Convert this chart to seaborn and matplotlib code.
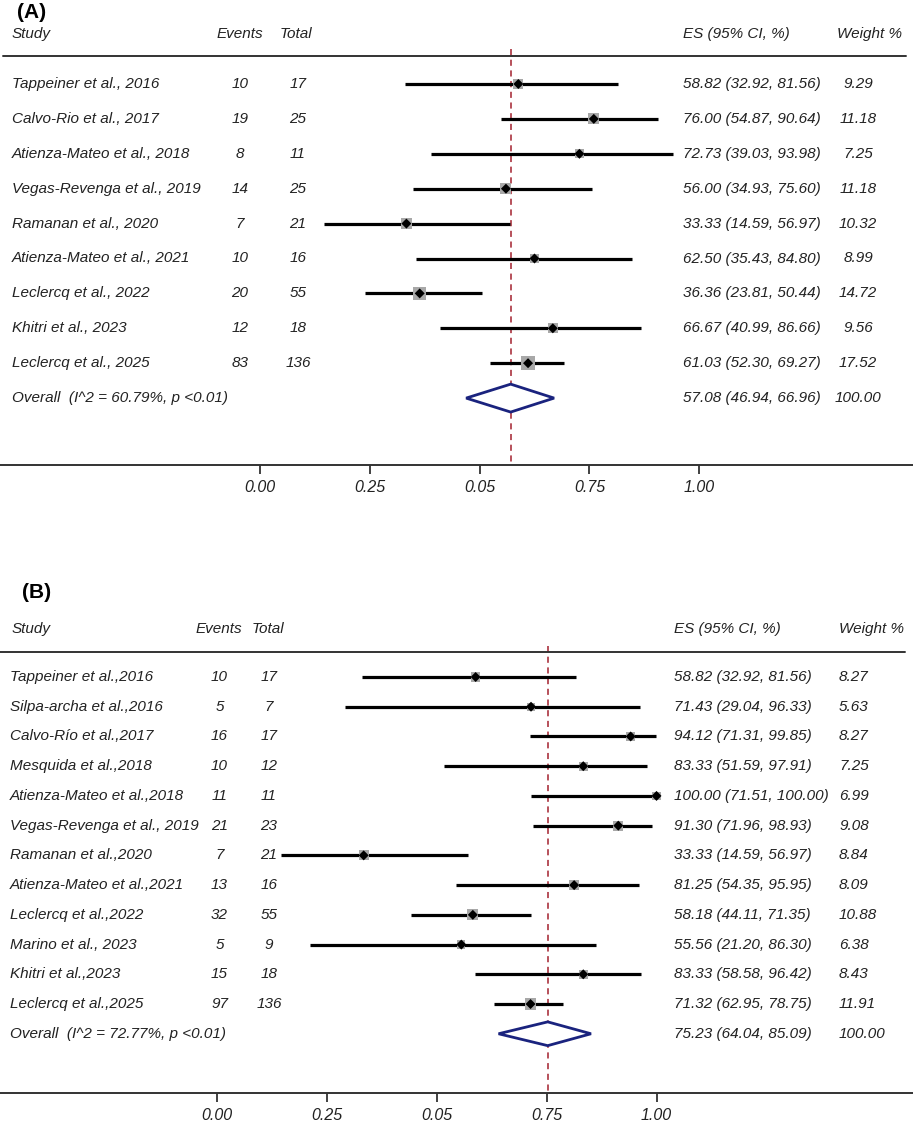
import numpy as np
import pandas as pd
import matplotlib
matplotlib.use("Agg")
import matplotlib.pyplot as plt
import seaborn as sns

# ---- panel A data ----
studies_a = ["Tappeiner et al., 2016", "Calvo-Rio et al., 2017", "Atienza-Mateo et al., 2018",
             "Vegas-Revenga et al., 2019", "Ramanan et al., 2020", "Atienza-Mateo et al., 2021",
             "Leclercq et al., 2022", "Khitri et al., 2023", "Leclercq et al., 2025"]
events_a = [10, 19, 8, 14, 7, 10, 20, 12, 83]
total_a = [17, 25, 11, 25, 21, 16, 55, 18, 136]
es_a = [58.82, 76.00, 72.73, 56.00, 33.33, 62.50, 36.36, 66.67, 61.03]
lo_a = [32.92, 54.87, 39.03, 34.93, 14.59, 35.43, 23.81, 40.99, 52.30]
hi_a = [81.56, 90.64, 93.98, 75.60, 56.97, 84.80, 50.44, 86.66, 69.27]
weight_a = [9.29, 11.18, 7.25, 11.18, 10.32, 8.99, 14.72, 9.56, 17.52]
overall_a = [57.08, 46.94, 66.96]
i2_a = 60.79

# ---- panel B data ----
studies_b = ["Tappeiner et al.,2016", "Silpa-archa et al.,2016", "Calvo-Río et al.,2017",
             "Mesquida et al.,2018", "Atienza-Mateo et al.,2018", "Vegas-Revenga et al., 2019",
             "Ramanan et al.,2020", "Atienza-Mateo et al.,2021", "Leclercq et al.,2022",
             "Marino et al., 2023", "Khitri et al.,2023", "Leclercq et al.,2025"]
events_b = [10, 5, 16, 10, 11, 21, 7, 13, 32, 5, 15, 97]
total_b = [17, 7, 17, 12, 11, 23, 21, 16, 55, 9, 18, 136]
es_b = [58.82, 71.43, 94.12, 83.33, 100.00, 91.30, 33.33, 81.25, 58.18, 55.56, 83.33, 71.32]
lo_b = [32.92, 29.04, 71.31, 51.59, 71.51, 71.96, 14.59, 54.35, 44.11, 21.20, 58.58, 62.95]
hi_b = [81.56, 96.33, 99.85, 97.91, 100.00, 98.93, 56.97, 95.95, 71.35, 86.30, 96.42, 78.75]
weight_b = [8.27, 5.63, 8.27, 7.25, 6.99, 9.08, 8.84, 8.09, 10.88, 6.38, 8.43, 11.91]
overall_b = [75.23, 64.04, 85.09]
i2_b = 72.77

tick_vals = [0, 0.25, 0.5, 0.75, 1.0]
tick_labels = ["0.00", "0.25", "0.05", "0.75", "1.00"]

sns.set_style("white")
plt.rcParams["font.family"] = ["Liberation Sans", "DejaVu Sans"]
plt.rcParams["font.style"] = "italic"

W, H = 913, 1123
fig = plt.figure(figsize=(W / 100, H / 100), dpi=100)
TXT = "#222222"
FS = 11


def draw_panel(ax, label, studies, events, total, es, lo, hi, weight, overall, i2,
               x0, row0, step, cols, wcenter):
    n = len(studies)
    df = pd.DataFrame({"study": studies, "events": events, "total": total,
                       "es": np.array(es) / 100, "lo": np.array(lo) / 100,
                       "hi": np.array(hi) / 100, "weight": weight, "row": np.arange(n)})
    px_per = 439.2
    ax.set_xlim(-x0 / px_per, (W - x0) / px_per)
    # axes spans from pixel "top" down to the axis line pixel "bot"
    pos = ax.get_position()
    top_px = H - (pos.y0 + pos.height) * H
    bot_px = H - pos.y0 * H
    ax.set_ylim((bot_px - row0) / step, (top_px - row0) / step)

    def r(px):
        return (px - row0) / step

    tr = ax.get_yaxis_transform()
    head_y = r(cols["head"])
    line_y = r(cols["line"])

    ax.text(cols["lab_x"] / W, r(cols["lab"]), label, transform=tr, fontsize=15,
            fontweight="bold", fontstyle="normal", va="center", color="black")
    ax.text(12 / W, head_y, "Study", transform=tr, fontsize=FS, va="center", color=TXT)
    ax.text(cols["ev_h"] / W, head_y, "Events", transform=tr, fontsize=FS, va="center", color=TXT)
    ax.text(cols["to_h"] / W, head_y, "Total", transform=tr, fontsize=FS, va="center", color=TXT)
    ax.text(cols["es"] / W, head_y, "ES (95% CI, %)", transform=tr, fontsize=FS, va="center", color=TXT)
    ax.text(cols["wt_h"] / W, head_y, "Weight %", transform=tr, fontsize=FS, va="center", color=TXT)
    ax.plot([cols["hl0"] / W, cols["hl1"] / W], [line_y, line_y], transform=tr,
            color="#333333", lw=1.4, clip_on=False)

    # reference line at pooled estimate
    ax.vlines(overall[0] / 100, line_y - 0.2, ax.get_ylim()[0], colors="#a3202e",
              linestyles=(0, (4, 3)), lw=1.1, zorder=1)

    # CI lines
    ax.hlines(df["row"], df["lo"], df["hi"], colors="black", lw=2.3, zorder=2)
    # weighted grey squares
    sns.scatterplot(data=df, x="es", y="row", size="weight",
                    sizes=(min(weight) * 5.6, max(weight) * 5.6),
                    size_norm=(min(weight), max(weight)), marker="s", color="#a8a8a8",
                    edgecolor="none", legend=False, ax=ax, zorder=3, clip_on=False)
    sns.scatterplot(data=df, x="es", y="row", marker="D", s=26, color="black",
                    edgecolor="none", legend=False, ax=ax, zorder=4, clip_on=False)

    for i in range(n):
        ax.text(cols["name_x"] / W, i, studies[i], transform=tr, fontsize=FS, va="center", color=TXT)
        ax.text(cols["ev"] / W, i, str(events[i]), transform=tr, fontsize=FS, va="center",
                ha="center", color=TXT)
        ax.text(cols["to"] / W, i, str(total[i]), transform=tr, fontsize=FS, va="center",
                ha="center", color=TXT)
        ax.text(cols["es"] / W, i, f"{es[i]:.2f} ({lo[i]:.2f}, {hi[i]:.2f})", transform=tr,
                fontsize=FS, va="center", color=TXT)
        ax.text(cols["wt"] / W, i, f"{weight[i]:.2f}", transform=tr, fontsize=FS, va="center",
                ha="center" if wcenter else "left", color=TXT)

    # pooled diamond
    est, olo, ohi = [v / 100 for v in overall]
    half = 0.4
    ax.fill([olo, est, ohi, est, olo], [n, n - half, n, n + half, n], facecolor="white",
            edgecolor="#1a237e", lw=2, zorder=3)
    ax.text(cols["name_x"] / W, n, f"Overall  (I^2 = {i2:.2f}%, p <0.01)", transform=tr,
            fontsize=FS, va="center", color=TXT)
    ax.text(cols["es"] / W, n, f"{overall[0]:.2f} ({overall[1]:.2f}, {overall[2]:.2f})",
            transform=tr, fontsize=FS, va="center", color=TXT)
    ax.text(cols["wt"] / W, n, "100.00", transform=tr, fontsize=FS, va="center",
            ha="center" if wcenter else "left", color=TXT)

    ax.set_xticks(tick_vals)
    ax.set_xticklabels(tick_labels, fontsize=FS + 0.5, color=TXT, fontstyle="italic")
    ax.set_yticks([])
    ax.set_xlabel("")
    ax.set_ylabel("")
    for s in ["top", "left", "right"]:
        ax.spines[s].set_visible(False)
    ax.spines["bottom"].set_color("#333333")
    ax.spines["bottom"].set_linewidth(1.4)
    ax.tick_params(axis="x", direction="out", length=6.5, width=1.3, color="#333333", pad=4,
                   bottom=True)


# panel A: axes from y=0 to axis line at 465 px
ax_a = fig.add_axes([0, (H - 465) / H, 1, 465 / H])
draw_panel(ax_a, "(A)", studies_a, events_a, total_a, es_a, lo_a, hi_a, weight_a, overall_a, i2_a,
           x0=260, row0=84, step=34.9,
           cols=dict(head=34, line=56, lab=12, lab_x=17, ev_h=217, to_h=280, es=683, wt_h=837,
                     hl0=3, hl1=906, name_x=12, ev=240, to=298, wt=858),
           wcenter=True)

# panel B: axes from y=580 to axis line at 1093 px
ax_b = fig.add_axes([0, (H - 1093) / H, 1, (1093 - 580) / H])
draw_panel(ax_b, "(B)", studies_b, events_b, total_b, es_b, lo_b, hi_b, weight_b, overall_b, i2_b,
           x0=217.3, row0=677, step=29.73,
           cols=dict(head=629, line=652, lab=593, lab_x=22, ev_h=196, to_h=252, es=674, wt_h=839,
                     hl0=0, hl1=905, name_x=10, ev=219.5, to=269, wt=839),
           wcenter=False)

fig.savefig("out.png", dpi=100)
